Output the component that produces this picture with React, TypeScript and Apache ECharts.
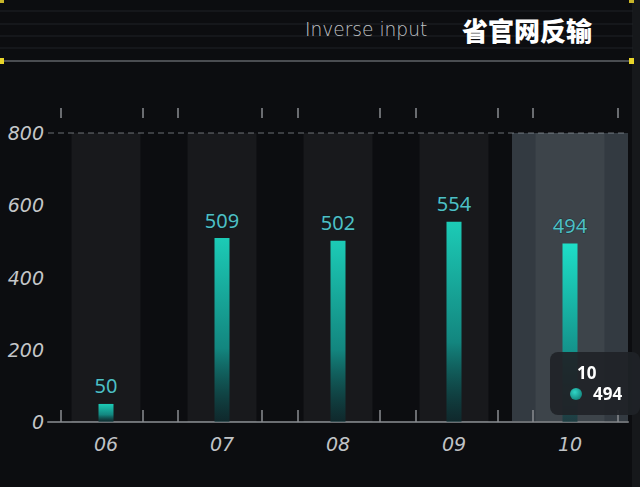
import * as React from "react";
import * as echarts from "echarts";

// 월별 값 — 막대 + 상단 라벨
const months = ["06", "07", "08", "09", "10"];
const values = [50, 509, 502, 554, 494];
const yTicks = [0, 200, 400, 600, 800];
// 축 장식 눈금 위치 (카테고리 단위, 중심 = index)
const tickMarks = [-0.39, 0.32, 0.62, 1.34, 1.65, 2.36, 2.67, 3.38, 3.68, 4.41];
const hoverIndex = 4;

const BG = "#0c0d10";

export default function App() {
  const ref = React.useRef<HTMLDivElement | null>(null);

  React.useEffect(() => {
    if (!ref.current) return;
    const chart = echarts.init(ref.current, undefined, { renderer: "svg" });
    const yMax = yTicks[yTicks.length - 1];

    const headerLines = [11, 24, 36, 48].map((y) => ({
      type: "line",
      shape: { x1: 0, y1: y, x2: 633, y2: y },
      style: { stroke: "#1f2226", lineWidth: 1 },
      silent: true,
    }));

    const decoAxis = (position: "top" | "bottom") => ({
      type: "value",
      min: -0.5,
      max: 4.5,
      position,
      offset: position === "top" ? 15 : 0,
      axisPointer: { show: false },
      axisLine: { show: position === "bottom", lineStyle: { color: "#6b6e72", width: 2 } },
      axisTick: {
        show: true,
        inside: position === "bottom",
        length: position === "bottom" ? 12 : 10,
        customValues: tickMarks,
        lineStyle: { color: "#8a8d91", width: 1.5 },
      },
      axisLabel: { show: false },
      splitLine: { show: false },
    });

    chart.setOption({
      animation: false,
      backgroundColor: BG,
      grid: { left: 48, right: 12, top: 133, bottom: 65 },
      graphic: [
        { type: "rect", shape: { x: 632, y: 0, width: 8, height: 487 }, style: { fill: "#16181b" }, silent: true },
        ...headerLines,
        {
          type: "line",
          shape: { x1: 0, y1: 61, x2: 633, y2: 61 },
          style: { stroke: "#4a4d51", lineWidth: 2 },
          silent: true,
        },
        { type: "rect", shape: { x: 0, y: 58, width: 4, height: 6 }, style: { fill: "#e8d42a" }, silent: true },
        { type: "rect", shape: { x: 629, y: 58, width: 5, height: 6 }, style: { fill: "#e8d42a" }, silent: true },
        { type: "rect", shape: { x: 0, y: 0, width: 4, height: 3 }, style: { fill: "#c9b52a" }, silent: true },
        { type: "rect", shape: { x: 629, y: 0, width: 5, height: 3 }, style: { fill: "#c9b52a" }, silent: true },
        {
          type: "text",
          left: 305,
          top: 20,
          style: {
            text: "Inverse input",
            fill: "#c0c3c6",
            font: "200 18.6px 'DejaVu Sans', sans-serif",
          },
          silent: true,
        },
        {
          type: "text",
          left: 462,
          top: 16,
          style: {
            text: "省官网反输",
            fill: "#ffffff",
            font: "900 26px 'Noto Sans CJK SC', sans-serif",
          },
          silent: true,
        },
      ],
      tooltip: {
        trigger: "axis",
        alwaysShowContent: true,
        axisPointer: {
          type: "shadow",
          z: 0,
          shadowStyle: { color: "rgba(160,180,200,0.27)" },
        },
        position: [550, 352],
        backgroundColor: "rgba(32,35,39,0.92)",
        borderWidth: 0,
        padding: [10, 18, 10, 20],
        extraCssText: "border-radius:8px;box-shadow:none;",
        formatter: (ps: any) => {
          const list = Array.isArray(ps) ? ps : [ps];
          const p = list.find((x: any) => x.seriesName === "value") ?? list[0];
          return (
            `<div style="font:bold 17px 'Noto Sans',sans-serif;color:#fff;line-height:21px;padding-left:7px">${p.name}</div>` +
            `<div style="display:flex;align-items:center;font:bold 17px 'Noto Sans',sans-serif;color:#fff;line-height:22px">` +
            `<span style="display:inline-block;width:12px;height:12px;border-radius:6px;background:radial-gradient(circle at 40% 35%,#2fd6c6,#0c6d68);margin-right:11px"></span>${p.value}</div>`
          );
        },
      },
      xAxis: [
        {
          type: "category",
          data: months,
          axisLine: { show: false },
          axisTick: { show: false },
          axisLabel: {
            color: "#c0c3c6",
            fontSize: 19,
            fontStyle: "italic",
            fontFamily: "'DejaVu Sans', sans-serif",
            fontWeight: 300,
            margin: 12,
          },
        },
        decoAxis("bottom"),
        decoAxis("top"),
        {
          type: "category",
          data: months,
          show: false,
          axisPointer: { show: false },
        },
      ],
      yAxis: {
        type: "value",
        min: 0,
        max: yMax,
        interval: 200,
        axisPointer: { show: false },
        axisLine: { show: false },
        axisTick: { show: false },
        axisLabel: {
          color: "#c4c6c8",
          fontSize: 19,
          fontStyle: "italic",
          fontFamily: "'DejaVu Sans', sans-serif",
          fontWeight: 300,
          margin: 4,
        },
        splitLine: {
          show: true,
          lineStyle: {
            color: ["transparent", "transparent", "transparent", "transparent", "#4a4d52"],
            type: [6, 4],
            width: 1.5,
          },
        },
      },
      series: [
        {
          name: "shadow",
          type: "bar",
          xAxisIndex: 3,
          data: months.map(() => yMax),
          barWidth: 69,
          silent: true,
          itemStyle: { color: "rgba(255,255,255,0.05)" },
          tooltip: { show: false },
          z: 1,
        },
        {
          name: "value",
          type: "bar",
          xAxisIndex: 0,
          data: values,
          barWidth: 15,
          z: 3,
          itemStyle: {
            color: new echarts.graphic.LinearGradient(0, 0, 0, 1, [
              { offset: 0, color: "#1ccbb6" },
              { offset: 0.6, color: "#13867f" },
              { offset: 1, color: "rgba(10,50,54,0.6)" },
            ]),
          },
          label: {
            show: true,
            position: "top",
            distance: 8,
            color: "#4fbfc4",
            fontSize: 20,
            fontFamily: "'Noto Sans', sans-serif",
            textBorderColor: "rgba(0,30,35,0.6)",
            textBorderWidth: 1,
          },
        },
      ],
    });

    chart.dispatchAction({ type: "showTip", seriesIndex: 1, dataIndex: hoverIndex });

    return () => chart.dispose();
  }, []);

  return (
    <div
      ref={ref}
      style={{ position: "absolute", left: 0, top: 0, width: 640, height: 487 }}
    />
  );
}
